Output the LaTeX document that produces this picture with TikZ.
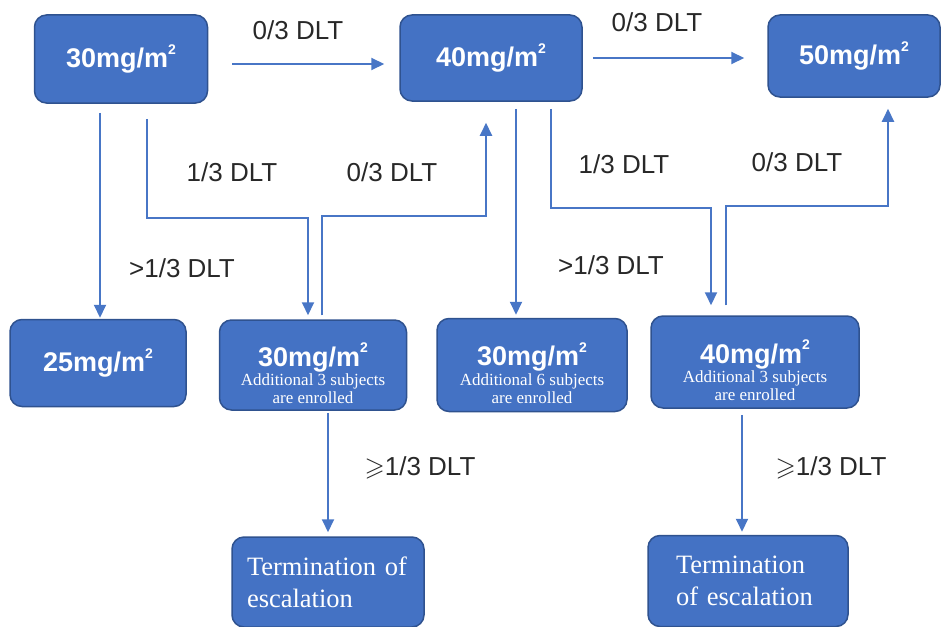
\documentclass[tikz,border=0pt]{standalone}
\usepackage{amssymb}
\usepackage{fontspec}
\setmainfont{Liberation Serif}
\setsansfont{Liberation Sans}
\definecolor{boxBlue}{RGB}{68,114,196}
\definecolor{boxEdge}{RGB}{47,82,143}
\definecolor{arrowBlue}{RGB}{72,118,198}
\definecolor{labelGray}{RGB}{40,40,40}
\usetikzlibrary{arrows.meta,calc}
\tikzstyle{flow}  =[-{Triangle[length=13pt,width=12pt]},
                    line width=2pt, arrowBlue]
\tikzstyle{dose}  =[rectangle, rounded corners=12pt, draw=boxEdge,
                    line width=1.5pt, fill=boxBlue, text=white,
                    inner sep=0pt, align=center,
                    font=\sffamily\bfseries\fontsize{27}{30}\selectfont]
\tikzstyle{endbox}=[dose, align=left,
                    font=\rmfamily\fontsize{26.5}{32}\selectfont]
\tikzstyle{dlt}   =[font=\sffamily\fontsize{26}{28}\selectfont,
                    text=labelGray, inner sep=0pt]
\newcommand{\msq}{m\raisebox{0.5em}{\fontsize{14}{14}\selectfont 2}}
\newcommand{\subtxt}{\rmfamily\mdseries\fontsize{17}{17}\selectfont}

\begin{document}
\begin{tikzpicture}[x=1pt,y=-1pt]
    \useasboundingbox (0,0) rectangle (944,626);

    % dose levels
    \draw (121,59) node (A) [dose,minimum width=173pt,minimum height=88pt] {30mg/\msq};
    \draw (491,58) node (B) [dose,minimum width=182pt,minimum height=86pt] {40mg/\msq};
    \draw (854,56) node (C) [dose,minimum width=172pt,minimum height=82pt] {50mg/\msq};
    \draw (98,363) node (D) [dose,minimum width=176pt,minimum height=87pt] {25mg/\msq};
    \draw (313,365) node (E) [dose,minimum width=187pt,minimum height=90pt]
        {\rule{0pt}{40pt}30mg/\msq\\[-11pt]\subtxt Additional 3 subjects\\[-12pt]\subtxt are enrolled};
    \draw (532,365) node (F) [dose,minimum width=190pt,minimum height=93pt]
        {\rule{0pt}{40pt}30mg/\msq\\[-10pt]\subtxt Additional 6 subjects\\[-12pt]\subtxt are enrolled};
    \draw (755,362) node (G) [dose,minimum width=208pt,minimum height=92pt]
        {\rule{0pt}{40pt}40mg/\msq\\[-11pt]\subtxt Additional 3 subjects\\[-12pt]\subtxt are enrolled};
    \draw (328,582) node (H) [endbox,minimum width=192pt,minimum height=90pt,
        text width=162pt] {Termination of\\escalation};
    \draw (748,581) node (I) [endbox,minimum width=200pt,minimum height=91pt,
        text width=144pt] {Termination\\of escalation};

    % decisions
    \draw (298,30) node (l1) [dlt] {0/3 DLT};
    \draw (657,22) node (l2) [dlt] {0/3 DLT};
    \draw (182,268) node (l3) [dlt] {>1/3 DLT};
    \draw (232,172) node (l4) [dlt] {1/3 DLT};
    \draw (392,172) node (l5) [dlt] {0/3 DLT};
    \draw (611,265) node (l6) [dlt] {>1/3 DLT};
    \draw (624,164) node (l7) [dlt] {1/3 DLT};
    \draw (797,162) node (l8) [dlt] {0/3 DLT};
    \draw (420,468) node (l9) [dlt] {$\geqslant$1/3 DLT};
    \draw (831,468) node (l10) [dlt] {$\geqslant$1/3 DLT};

    \draw [flow] ([xshift=24pt,yshift=-5pt]A.east) -- ([xshift=-15pt,yshift=-6pt]B.west);
    \draw [flow] ([xshift=10pt]B.east) -- ([xshift=-23pt,yshift=-2pt]C.west);
    \draw [flow] ([xshift=-21pt,yshift=-9pt]A.south) -- ([xshift=2pt,yshift=1pt]D.north);
    \draw [flow] ([xshift=26pt,yshift=-15pt]A.south) -- ++(0,99) -| ([xshift=-5pt,yshift=4pt]E.north);
    \draw [flow] ([xshift=9pt,yshift=4pt]E.north) -- ++(0,-99) -| ([xshift=-5pt,yshift=-21pt]B.south);
    \draw [flow] ([xshift=25pt,yshift=-7pt]B.south) -- ([xshift=-16pt,yshift=3pt]F.north);
    \draw [flow] ([xshift=60pt,yshift=-7pt]B.south) -- ++(0,99) -| ([xshift=-44pt,yshift=10pt]G.north);
    \draw [flow] ([xshift=-29pt,yshift=10pt]G.north) -- ++(0,-99) -| ([xshift=34pt,yshift=-11pt]C.south);
    \draw [flow] ([xshift=15pt,yshift=-2pt]E.south) -- ([yshift=4pt]H.north);
    \draw [flow] ([xshift=-13pt,yshift=-6pt]G.south) -- ([xshift=-6pt,yshift=3pt]I.north);

\end{tikzpicture}
\end{document}
